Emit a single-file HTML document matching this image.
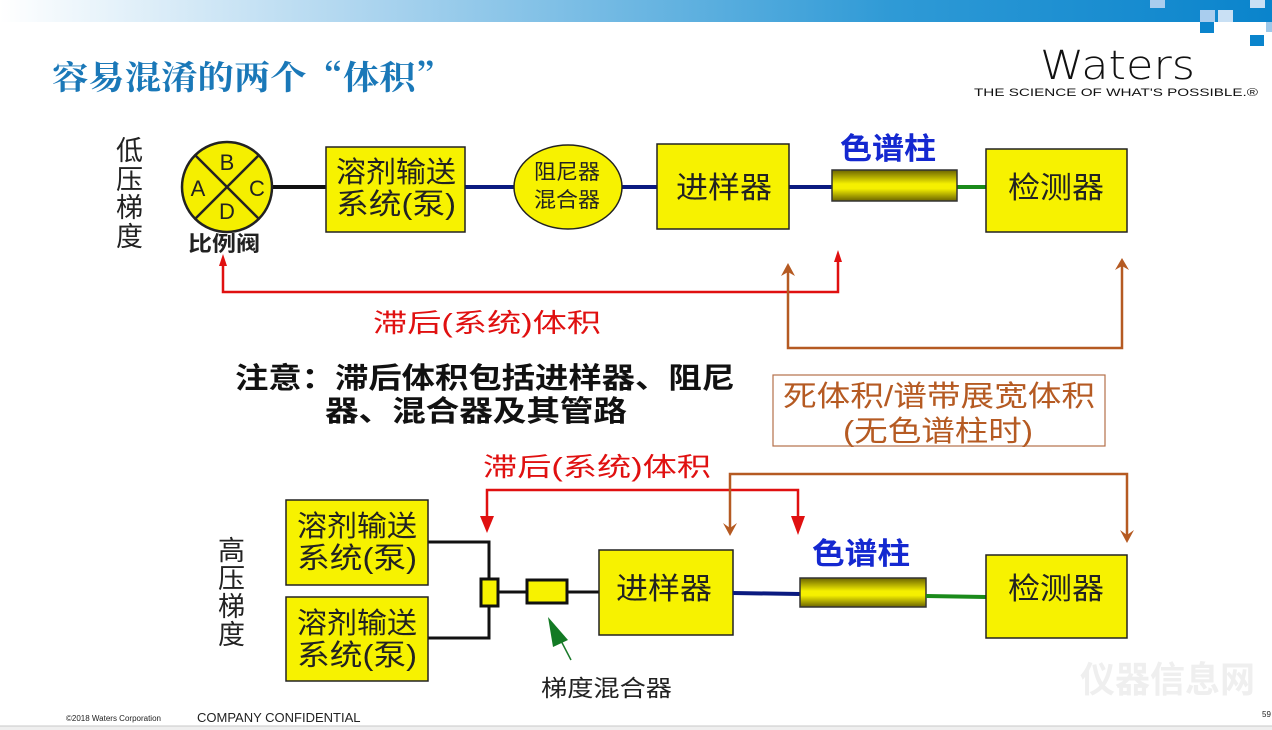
<!DOCTYPE html>
<html><head><meta charset="utf-8"><style>
html,body{margin:0;padding:0;background:#fff;width:1272px;height:730px;overflow:hidden}
svg{display:block}
text{font-family:"Liberation Sans","Noto Sans CJK SC",sans-serif}
</style></head><body>
<svg width="1272" height="730" viewBox="0 0 1272 730" xmlns="http://www.w3.org/2000/svg">
<defs>
<linearGradient id="hdr" x1="0" x2="1" y1="0" y2="0">
<stop offset="0" stop-color="#ffffff"/><stop offset="0.3" stop-color="#a9d3ee"/><stop offset="0.7" stop-color="#2f9ad6"/><stop offset="1" stop-color="#0a84cc"/></linearGradient>
<linearGradient id="col" x1="0" x2="0" y1="0" y2="1">
<stop offset="0" stop-color="#6b6400"/><stop offset="0.45" stop-color="#f5f000"/><stop offset="0.6" stop-color="#f5f000"/><stop offset="1" stop-color="#6b6400"/></linearGradient>
</defs>
<rect x="0" y="0" width="1272" height="22" fill="url(#hdr)"/>
<rect x="1150" y="0" width="15" height="8" fill="#a9cdee"/>
<rect x="1200" y="10" width="15" height="12" fill="#a9cdee"/>
<rect x="1218" y="10" width="15" height="12" fill="#c9e0f4"/>
<rect x="1250" y="0" width="15" height="8" fill="#c9e0f4"/>
<rect x="1200" y="22" width="14" height="11" fill="#0a84cc"/>
<rect x="1250" y="35" width="14" height="11" fill="#0a84cc"/>
<rect x="1266" y="22" width="6" height="10" fill="#9cc8ea"/>

<g lengthAdjust="spacingAndGlyphs">
<text x="52" y="89" font-size="33" font-weight="bold" fill="#1a78b8" style="font-family:'Noto Serif CJK SC',serif" textLength="400" lengthAdjust="spacingAndGlyphs">容易混淆的两个“体积”</text>
<text x="1040" y="79" font-size="40" fill="#111" style="font-family:'DejaVu Sans',sans-serif;font-weight:200" textLength="155" lengthAdjust="spacingAndGlyphs">Waters</text>
<text x="974" y="96" font-size="11" fill="#111" textLength="284" lengthAdjust="spacingAndGlyphs">THE SCIENCE OF WHAT'S POSSIBLE.®</text>
</g>

<!-- top row -->
<g font-size="27" fill="#222">
<text x="116" y="160">低</text><text x="116" y="189">压</text><text x="116" y="217">梯</text><text x="116" y="246">度</text>
</g>
<line x1="272" y1="187" x2="326" y2="187" stroke="#111" stroke-width="4"/>
<line x1="465" y1="187" x2="514" y2="187" stroke="#0a1a80" stroke-width="4"/>
<line x1="622" y1="187" x2="657" y2="187" stroke="#0a1a80" stroke-width="4"/>
<line x1="789" y1="187" x2="832" y2="187" stroke="#0a1a80" stroke-width="4"/>
<line x1="957" y1="187" x2="986" y2="187" stroke="#1a8a1a" stroke-width="4"/>
<circle cx="227" cy="187" r="45" fill="#f5ef00" stroke="#222" stroke-width="2.5"/>
<line x1="195" y1="155" x2="259" y2="219" stroke="#222" stroke-width="2.5"/>
<line x1="259" y1="155" x2="195" y2="219" stroke="#222" stroke-width="2.5"/>
<g font-size="22" fill="#222" text-anchor="middle">
<text x="227" y="170">B</text><text x="198" y="196">A</text><text x="257" y="196">C</text><text x="227" y="219">D</text></g>
<text x="188" y="251" font-size="21" font-weight="bold" fill="#222" textLength="72" lengthAdjust="spacingAndGlyphs">比例阀</text>
<rect x="326" y="147" width="139" height="85" fill="#f7f200" stroke="#222" stroke-width="1.5"/>
<text x="336" y="182" font-size="29" fill="#222" textLength="120" lengthAdjust="spacingAndGlyphs">溶剂输送</text>
<text x="336" y="214" font-size="29" fill="#222" textLength="120" lengthAdjust="spacingAndGlyphs">系统(泵)</text>
<ellipse cx="568" cy="187" rx="54" ry="42" fill="#f7f200" stroke="#222" stroke-width="1.5"/>
<text x="534" y="179" font-size="21" fill="#222" textLength="66" lengthAdjust="spacingAndGlyphs">阻尼器</text>
<text x="534" y="207" font-size="21" fill="#222" textLength="66" lengthAdjust="spacingAndGlyphs">混合器</text>
<rect x="657" y="144" width="132" height="85" fill="#f7f200" stroke="#222" stroke-width="1.5"/>
<text x="676" y="198" font-size="30" fill="#222" textLength="96" lengthAdjust="spacingAndGlyphs">进样器</text>
<rect x="832" y="170" width="125" height="31" fill="url(#col)" stroke="#333" stroke-width="1.5"/>
<text x="840" y="159" font-size="30" font-weight="bold" fill="#1428d0" textLength="96" lengthAdjust="spacingAndGlyphs">色谱柱</text>
<rect x="986" y="149" width="141" height="83" fill="#f7f200" stroke="#222" stroke-width="1.5"/>
<text x="1008" y="198" font-size="30" fill="#222" textLength="96" lengthAdjust="spacingAndGlyphs">检测器</text>

<!-- top connectors -->
<polyline points="223,262 223,292 838,292 838,258" fill="none" stroke="#e01010" stroke-width="2.5"/>
<polygon points="223,254 219,266 227,266" fill="#e01010"/>
<polygon points="838,250 834,262 842,262" fill="#e01010"/>
<polyline points="788,268 788,348 1122,348 1122,262" fill="none" stroke="#b55a22" stroke-width="2.5"/>
<polygon points="788,263 781,276 788,272 795,276" fill="#b55a22"/>
<polygon points="1122,258 1115,270 1122,266 1129,270" fill="#b55a22"/>
<text x="373" y="332" font-size="26" fill="#e01010" textLength="228" lengthAdjust="spacingAndGlyphs">滞后(系统)体积</text>
<text x="235" y="388" font-size="29" font-weight="bold" fill="#111" textLength="500" lengthAdjust="spacingAndGlyphs">注意：滞后体积包括进样器、阻尼</text>
<text x="325" y="421" font-size="29" font-weight="bold" fill="#111" textLength="302" lengthAdjust="spacingAndGlyphs">器、混合器及其管路</text>
<rect x="773" y="375" width="332" height="71" fill="#fff" stroke="#b5704a" stroke-width="1.2"/>
<text x="783" y="406" font-size="29" fill="#b55a22" textLength="312" lengthAdjust="spacingAndGlyphs">死体积/谱带展宽体积</text>
<text x="843" y="441" font-size="29" fill="#b55a22" textLength="190" lengthAdjust="spacingAndGlyphs">(无色谱柱时)</text>

<!-- bottom connectors -->
<text x="483" y="476" font-size="26" fill="#e01010" textLength="228" lengthAdjust="spacingAndGlyphs">滞后(系统)体积</text>
<polyline points="487,520 487,490 798,490 798,520" fill="none" stroke="#e01010" stroke-width="2.5"/>
<polygon points="480,516 494,516 487,533" fill="#e01010"/>
<polygon points="791,516 805,516 798,535" fill="#e01010"/>
<polyline points="730,530 730,474 1127,474 1127,538" fill="none" stroke="#b55a22" stroke-width="2.5"/>
<polygon points="723,523 730,536 737,523 730,528" fill="#b55a22"/>
<polygon points="1120,530 1127,543 1134,530 1127,535" fill="#b55a22"/>

<g font-size="27" fill="#222">
<text x="218" y="560">高</text><text x="218" y="588">压</text><text x="218" y="616">梯</text><text x="218" y="644">度</text>
</g>
<polyline points="428,542 489,542 489,638 428,638" fill="none" stroke="#111" stroke-width="3"/>
<line x1="499" y1="592" x2="599" y2="592" stroke="#111" stroke-width="3"/>
<rect x="286" y="500" width="142" height="85" fill="#f7f200" stroke="#222" stroke-width="1.5"/>
<text x="297" y="536" font-size="29" fill="#222" textLength="120" lengthAdjust="spacingAndGlyphs">溶剂输送</text>
<text x="297" y="568" font-size="29" fill="#222" textLength="120" lengthAdjust="spacingAndGlyphs">系统(泵)</text>
<rect x="286" y="597" width="142" height="84" fill="#f7f200" stroke="#222" stroke-width="1.5"/>
<text x="297" y="633" font-size="29" fill="#222" textLength="120" lengthAdjust="spacingAndGlyphs">溶剂输送</text>
<text x="297" y="665" font-size="29" fill="#222" textLength="120" lengthAdjust="spacingAndGlyphs">系统(泵)</text>
<rect x="481" y="579" width="17" height="27" fill="#f7f200" stroke="#111" stroke-width="3"/>
<rect x="527" y="580" width="40" height="23" fill="#f7f200" stroke="#111" stroke-width="3"/>
<rect x="599" y="550" width="134" height="85" fill="#f7f200" stroke="#222" stroke-width="1.5"/>
<text x="616" y="599" font-size="30" fill="#222" textLength="96" lengthAdjust="spacingAndGlyphs">进样器</text>
<line x1="733" y1="593" x2="800" y2="594" stroke="#0a1a80" stroke-width="4"/>
<rect x="800" y="578" width="126" height="29" fill="url(#col)" stroke="#333" stroke-width="1.5"/>
<text x="812" y="564" font-size="30" font-weight="bold" fill="#1428d0" textLength="98" lengthAdjust="spacingAndGlyphs">色谱柱</text>
<line x1="926" y1="596" x2="986" y2="597" stroke="#1a8a1a" stroke-width="4"/>
<rect x="986" y="555" width="141" height="83" fill="#f7f200" stroke="#222" stroke-width="1.5"/>
<text x="1008" y="599" font-size="30" fill="#222" textLength="96" lengthAdjust="spacingAndGlyphs">检测器</text>
<line x1="571" y1="660" x2="558" y2="635" stroke="#1a7a2a" stroke-width="1.5"/>
<polygon points="548,617 568,640 553,647" fill="#137a24"/>
<text x="541" y="696" font-size="23" fill="#222" textLength="131" lengthAdjust="spacingAndGlyphs">梯度混合器</text>

<!-- watermark -->
<text x="1080" y="692" font-size="36" font-weight="bold" fill="#efefef" textLength="175" lengthAdjust="spacingAndGlyphs">仪器信息网</text>
<!-- footer -->
<text x="66" y="721" font-size="8" fill="#222">©2018 Waters Corporation</text>
<text x="197" y="722" font-size="13" fill="#222">COMPANY CONFIDENTIAL</text>
<text x="1262" y="717" font-size="8" fill="#222">59</text>
<rect x="0" y="726" width="1272" height="4" fill="#efefef"/>
<line x1="0" y1="726" x2="1272" y2="726" stroke="#c8c8c8" stroke-width="1"/>
</svg>
</body></html>
